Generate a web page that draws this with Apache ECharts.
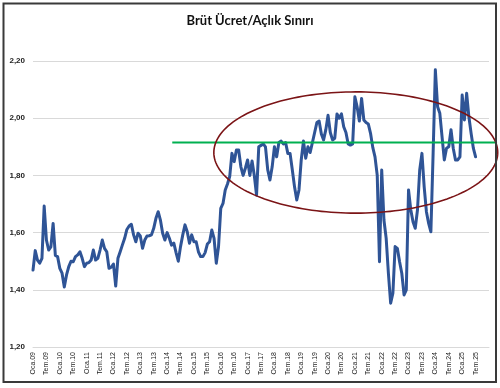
<!DOCTYPE html>
<html>
<head>
<meta charset="utf-8">
<script src="https://cdn.jsdelivr.net/npm/echarts@6/dist/echarts.min.js"></script>
<style>html,body{margin:0;padding:0;background:#fff}#c{width:500px;height:388px}</style>
</head>
<body>
<div id="c"></div>
<script>
// Title
const chartTitle = 'Brüt Ücret/Açlık Sınırı';

// X tick labels (every 6 months, starting Jan 2009)
const tickLabels = [
  'Oca.09','Tem.09','Oca.10','Tem.10','Oca.11','Tem.11','Oca.12','Tem.12',
  'Oca.13','Tem.13','Oca.14','Tem.14','Oca.15','Tem.15','Oca.16','Tem.16',
  'Oca.17','Tem.17','Oca.18','Tem.18','Oca.19','Tem.19','Oca.20','Tem.20',
  'Oca.21','Tem.21','Oca.22','Tem.22','Oca.23','Tem.23','Oca.24','Tem.24',
  'Oca.25','Tem.25'
];

// Monthly ratio values, Jan 2009 .. Jul 2025
const ratioValues = [
  1.469,1.537,1.504,1.493,1.510,1.693,1.574,1.539,1.550,1.632,1.520,1.516,
  1.475,1.458,1.410,1.452,1.481,1.500,1.498,1.516,1.522,1.533,1.510,1.481,
  1.493,1.495,1.504,1.539,1.504,1.510,1.539,1.574,1.545,1.533,1.475,1.479,
  1.490,1.413,1.510,1.533,1.557,1.580,1.611,1.623,1.629,1.592,1.568,1.598,
  1.588,1.545,1.574,1.588,1.589,1.592,1.615,1.650,1.673,1.644,1.598,1.574,
  1.600,1.580,1.556,1.563,1.530,1.500,1.551,1.592,1.627,1.603,1.563,1.592,
  1.568,1.568,1.533,1.516,1.516,1.530,1.560,1.568,1.609,1.580,1.493,1.551,
  1.685,1.702,1.749,1.770,1.796,1.877,1.848,1.889,1.889,1.830,1.800,1.825,
  1.854,1.800,1.850,1.800,1.731,1.900,1.905,1.910,1.900,1.820,1.784,1.830,
  1.900,1.865,1.915,1.920,1.910,1.915,1.877,1.877,1.820,1.760,1.714,1.749,
  1.854,1.920,1.860,1.900,1.880,1.915,1.950,1.985,1.990,1.945,1.924,1.960,
  2.010,1.950,1.924,1.930,2.015,2.000,2.015,1.970,1.950,1.910,1.906,1.910,
  2.075,2.040,1.990,2.069,1.994,1.985,1.980,1.947,1.898,1.865,1.800,1.498,
  1.819,1.644,1.580,1.457,1.353,1.388,1.551,1.545,1.498,1.457,1.382,1.400,
  1.749,1.680,1.638,1.615,1.679,1.819,1.877,1.760,1.673,1.632,1.603,1.877,
  2.169,2.040,2.017,1.935,1.854,1.895,1.900,1.960,1.895,1.854,1.854,1.865,
  2.081,1.994,2.087,2.005,1.947,1.895,1.865
];

// Annotations (data units: month index, ratio)
const greenLevel = 1.915;
const greenFromMonth = 62.3;
const greenToMonth = 207.6;
const ellipseCenter = [144.4, 1.880];
const ellipseRadii = [63.5, 0.212];

const chart = echarts.init(document.getElementById('c'), null, {renderer: 'canvas'});

const fmtY = v => v.toFixed(2).replace('.', ',');

chart.setOption({
  animation: false,
  backgroundColor: '#fff',
  title: {
    text: chartTitle,
    left: 'center',
    top: 9,
    textStyle: {fontFamily: 'Lato', fontWeight: 'bold', fontSize: 13, color: '#111'}
  },
  graphic: [{
    type: 'rect',
    shape: {x: 3.5, y: 3.5, width: 492.5, height: 378.5},
    style: {fill: 'none', stroke: '#3a3a3a', lineWidth: 2},
    silent: true,
    z: 100
  }],
  grid: {left: 33, right: 11, top: 61, bottom: 41, containLabel: false},
  xAxis: {
    type: 'value',
    min: 0,
    max: 204,
    interval: 6,
    axisLine: {show: true, lineStyle: {color: '#d9d9d9', width: 1}},
    axisTick: {show: false},
    splitLine: {show: false},
    axisLabel: {
      rotate: 90,
      margin: 5,
      fontSize: 7,
      fontFamily: 'Liberation Sans',
      color: '#222',
      showMaxLabel: true,
      showMinLabel: true,
      formatter: v => tickLabels[Math.round(v / 6)] || ''
    }
  },
  yAxis: {
    type: 'value',
    min: 1.2,
    max: 2.2,
    interval: 0.2,
    axisLine: {show: false},
    axisTick: {show: false},
    splitLine: {show: true, lineStyle: {color: '#d9d9d9', width: 1}},
    axisLabel: {
      margin: 8,
      fontSize: 8,
      fontWeight: 'bold',
      fontFamily: 'Liberation Sans',
      color: '#222',
      formatter: fmtY
    }
  },
  series: [
    {
      type: 'line',
      data: ratioValues.map((v, i) => [i, v]),
      showSymbol: false,
      lineStyle: {color: '#2F5496', width: 3, join: 'round', cap: 'round'},
      z: 3
    },
    {
      type: 'custom',
      clip: false,
      z: 5,
      silent: true,
      data: [[0, 0]],
      renderItem: function (params, api) {
        const c = api.coord(ellipseCenter);
        const s = api.size(ellipseRadii);
        const pts = [];
        for (let i = 0; i < 180; i++) {
          const t = (i / 180) * Math.PI * 2;
          pts.push([c[0] + s[0] * Math.cos(t), c[1] + s[1] * Math.sin(t)]);
        }
        const g1 = api.coord([greenFromMonth, greenLevel]);
        const g2 = api.coord([greenToMonth, greenLevel]);
        return {
          type: 'group',
          children: [
            {
              type: 'line',
              shape: {x1: g1[0], y1: g1[1], x2: g2[0], y2: g2[1]},
              style: {stroke: '#00B050', lineWidth: 2}
            },
            {
              type: 'polygon',
              shape: {points: pts},
              style: {fill: 'none', stroke: '#7B1416', lineWidth: 1.6}
            }
          ]
        };
      }
    }
  ]
});
</script>
</body>
</html>
